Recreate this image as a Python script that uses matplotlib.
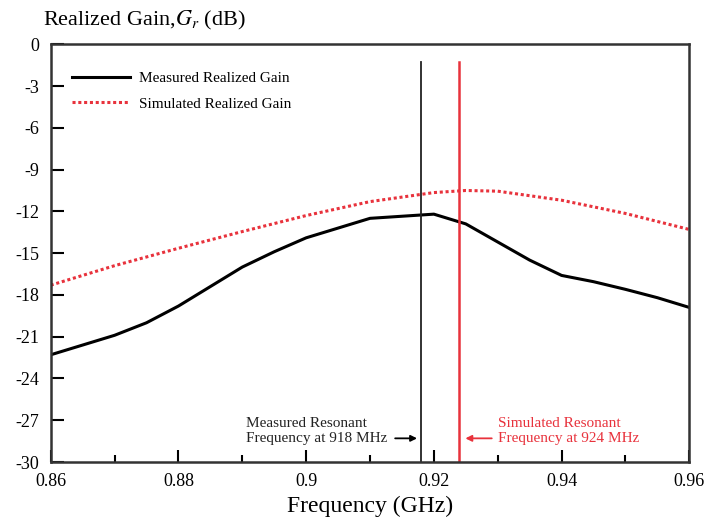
import numpy as np
import matplotlib
matplotlib.use("Agg")
import matplotlib.pyplot as plt
from matplotlib.ticker import MultipleLocator, FuncFormatter

plt.rcParams["font.family"] = ["Liberation Serif", "DejaVu Serif"]
plt.rcParams["mathtext.fontset"] = "stix"
plt.rcParams["axes.unicode_minus"] = False

# frequency sweep (GHz)
freq_meas = [0.86, 0.865, 0.87, 0.875, 0.88, 0.885, 0.89, 0.895, 0.90, 0.905,
             0.91, 0.915, 0.92, 0.925, 0.93, 0.935, 0.94, 0.945, 0.95, 0.955, 0.96]
gain_meas = [-22.3, -21.6, -20.9, -20.0, -18.8, -17.4, -16.0, -14.9, -13.9, -13.2,
             -12.5, -12.35, -12.2, -12.9, -14.2, -15.5, -16.6, -17.05, -17.6, -18.2, -18.9]

freq_sim = [0.86, 0.87, 0.88, 0.89, 0.90, 0.91, 0.92, 0.925, 0.93, 0.94, 0.95, 0.96]
gain_sim = [-17.3, -15.9, -14.65, -13.45, -12.3, -11.3, -10.65, -10.5, -10.55, -11.2, -12.15, -13.3]

f_res_meas = 0.918
f_res_sim = 0.924

red = "#e8323c"

fig = plt.figure(figsize=(7.07, 5.27), dpi=100)
ax = fig.add_axes([0.0717, 0.1233, 0.9033, 0.7927])

ax.plot(freq_meas, gain_meas, color="black", lw=2.2, label="Measured Realized Gain")
ax.plot(freq_sim, gain_sim, color=red, lw=2.2, linestyle=(0, (1, 0.9)),
        label="Simulated Realized Gain")

# resonance markers
ax.axvline(f_res_meas, ymin=0, ymax=0.957, color="#222222", lw=1.3)
ax.axvline(f_res_sim, ymin=0, ymax=0.957, color=red, lw=1.8)

ax.text(0.8906, -27.75, "Measured Resonant\nFrequency at 918 MHz", fontsize=11,
        color="#222222", va="center", ha="left", linespacing=1.2)
ax.annotate("", xy=(f_res_meas - 0.0002, -28.3), xytext=(f_res_meas - 0.0045, -28.3),
            arrowprops=dict(arrowstyle="-|>", color="black", lw=1.3, mutation_scale=9))

ax.text(0.9300, -27.75, "Simulated Resonant\nFrequency at 924 MHz", fontsize=11,
        color=red, va="center", ha="left", linespacing=1.2)
ax.annotate("", xy=(f_res_sim + 0.0005, -28.3), xytext=(f_res_sim + 0.0055, -28.3),
            arrowprops=dict(arrowstyle="-|>", color=red, lw=1.3, mutation_scale=9))

ax.set_xlim(0.86, 0.96)
ax.set_ylim(-30, 0)
ax.xaxis.set_major_locator(MultipleLocator(0.02))
ax.xaxis.set_minor_locator(MultipleLocator(0.01))
ax.yaxis.set_major_locator(MultipleLocator(3))
ax.xaxis.set_major_formatter(FuncFormatter(lambda v, p: "{:g}".format(round(v, 3))))
ax.tick_params(which="both", direction="in", top=False, right=False,
               labelsize=13, pad=8, width=1.5)
ax.tick_params(which="major", length=9)
ax.tick_params(which="minor", length=5)
for s in ax.spines.values():
    s.set_linewidth(1.8)
    s.set_color("#333333")

ax.set_xlabel("Frequency (GHz)", fontsize=17, labelpad=4)
fig.text(0.061, 0.951, r"Realized Gain,$G_r$ (dB)", fontsize=16, va="baseline", ha="left")

ax.legend(loc="upper left", bbox_to_anchor=(0.033, 0.935), frameon=False, fontsize=11,
          handlelength=3.8, borderpad=0, borderaxespad=0, labelspacing=0.78,
          handletextpad=0.6)

fig.savefig("out.png", dpi=100)
